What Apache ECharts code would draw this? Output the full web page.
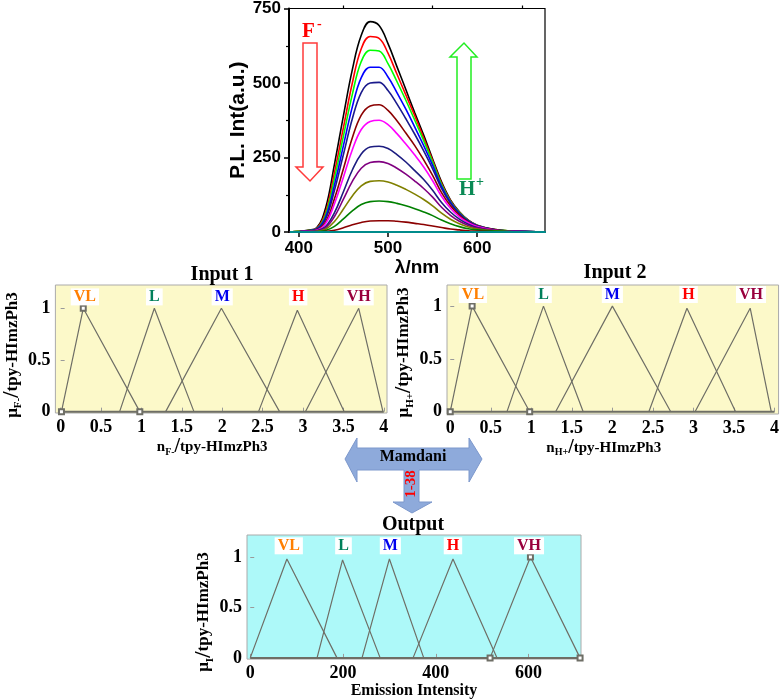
<!DOCTYPE html>
<html><head><meta charset="utf-8">
<script src="https://cdn.jsdelivr.net/npm/echarts@6/dist/echarts.min.js"></script>
<style>html,body{margin:0;padding:0;background:#fff}#c{width:782px;height:700px}</style>
</head><body><div id="c"></div>
<script>
// ---------- Top: PL spectra ----------
const wavelength = [390,400,410,420,430,440,450,460,470,480,490,500,510,520,530,540,550,560,570,580,590,600,620,640,677];
const pl01 = [0,2,6,14,80,228,390,545,660,706,693,632,555,478,400,325,245,168,108,68,40,23,8,3,0];
const pl02 = [0,2,5,12,66,200,350,500,615,656,650,600,530,460,390,315,240,163,105,66,39,22,8,3,0];
const pl03 = [0,2,5,11,58,180,322,462,572,610,607,565,505,442,375,306,234,159,103,65,38,21,8,3,0];
const pl04 = [0,1,4,10,50,158,290,420,518,553,553,520,468,412,352,290,224,153,100,63,37,21,7,3,0];
const pl05 = [0,1,4,9,43,140,260,380,468,500,502,475,430,380,328,272,212,146,96,61,36,20,7,3,0];
const pl06 = [0,1,3,7,33,112,212,316,392,423,427,408,373,332,290,242,190,132,88,56,33,19,7,2,0];
const pl07 = [0,1,3,6,28,95,184,276,344,371,375,360,330,295,258,218,172,120,80,51,31,18,6,2,0];
const pl08 = [0,1,2,4,18,65,135,208,262,285,288,280,260,235,206,176,140,99,67,43,26,15,5,2,0];
const pl09 = [0,1,2,3,14,52,110,170,214,233,236,230,214,194,171,146,117,83,56,36,22,13,5,2,0];
const pl10 = [0,0,1,2,9,35,77,121,155,170,172,168,157,143,127,109,88,63,43,28,17,10,4,1,0];
const pl11 = [0,0,1,1,5,19,44,71,92,102,104,102,96,88,78,67,55,40,28,18,11,7,3,1,0];
const pl12 = [0,0,0,0,2,6,14,24,32,37,38,38,36,33,29,25,20,15,10,7,4,3,1,0,0];
const pl13 = [0,0,0,0,0,0,0,0,0,0,0,0,0,0,0,0,0,0,0,0,0,0,0,0,0];
const plCurves = [pl01,pl02,pl03,pl04,pl05,pl06,pl07,pl08,pl09,pl10,pl11,pl12,pl13];
const plColors = ['#000000','#ff0000','#00ff00','#0000ff','#1a1a8c','#8b0000','#ff00ff','#1c1c80','#800080','#808000','#008000','#8b0000','#008b8b'];
const plTicksX = [400,500,600];
const plMinorX = [450,550,650];

// ---------- Fuzzy membership functions ----------
const terms = ['VL','L','M','H','VH'];
const termColors = ['#ff7f00','#00805a','#0000ee','#ff0000','#99003d'];
const in1Mf = [[0.01,0.28,0.98],[0.73,1.16,1.65],[1.30,1.99,2.71],[2.45,2.93,3.51],[3.03,3.69,3.99]];
const in1Peak = [1,1,1,0.98,1];
const in1LabelX = [0.30,1.16,2.0,2.94,3.69];
const in2Mf = [[0.00,0.27,0.98],[0.70,1.15,1.64],[1.30,2.00,2.72],[2.45,2.92,3.52],[3.02,3.70,3.96]];
const in2Peak = [1,1,1,0.98,0.98];
const in2LabelX = [0.28,1.15,2.0,2.94,3.71];
const outMf = [[0,79,187],[144,199,280],[241,300,374],[351,437,532],[517,604,711]];
const outPeak = [0.98,0.97,0.98,0.98,1];
const outLabelX = [83,201,302,437,601];
const labelY = 1.11;
const inTicks = [0,0.5,1,1.5,2,2.5,3,3.5,4];
const memTicks = [0,0.5,1];
const outTicks = [0,200,400,600];

const SERIF = 'Liberation Serif';
const SANS = 'Liberation Sans';

function fuzzyX(gi, min, max, ticks, nameRich, padRight){
  return {gridIndex: gi, type:'value', min:min, max:max,
    axisLine:{show:false}, splitLine:{show:false},
    axisTick:{show:true, inside:true, length:4, customValues:ticks, lineStyle:{color:'#9a9a9a'}},
    axisLabel:{customValues:ticks, margin:5, fontFamily:SERIF, fontWeight:'bold', fontSize:18, color:'#000'},
    name:nameRich.text, nameLocation:'middle', nameGap:nameRich.gap,
    nameTextStyle:{padding:[0,padRight||0,0,0], rich:nameRich.rich}};
}
function fuzzyY(gi, min, max, nameRich){
  return {gridIndex: gi, type:'value', min:min, max:max,
    axisLine:{show:false}, splitLine:{show:false},
    axisTick:{show:true, inside:true, length:4, customValues:memTicks, lineStyle:{color:'#9a9a9a'}},
    axisLabel:{customValues:memTicks, margin:5, fontFamily:SERIF, fontWeight:'bold', fontSize:18, color:'#000'},
    name:nameRich.text, nameLocation:'middle', nameGap:nameRich.gap, nameRotate:90,
    nameTextStyle:{padding:nameRich.pad||[0,0,0,0], rich:nameRich.rich}};
}
const nameRichX = {
  a:{fontFamily:SERIF, fontWeight:'bold', fontSize:15, color:'#000'},
  s:{fontFamily:SERIF, fontWeight:'bold', fontSize:10, color:'#000', verticalAlign:'bottom', padding:[7,0,0,0]},
  sl:{fontFamily:SERIF, fontWeight:'bold', fontSize:20, color:'#000'}
};
const nameRichY = {
  a:{fontFamily:SERIF, fontWeight:'bold', fontSize:17, color:'#000'},
  s:{fontFamily:SERIF, fontWeight:'bold', fontSize:11, color:'#000', verticalAlign:'bottom', padding:[7,0,0,0]},
  sl:{fontFamily:SERIF, fontWeight:'bold', fontSize:23, color:'#000'}
};

const series = [];
plCurves.forEach((arr, i) => {
  series.push({type:'line', xAxisIndex:0, yAxisIndex:0, smooth:0.4, symbol:'none',
    lineStyle:{color:plColors[i], width: i===12 ? 2.2 : 1.6},
    data: wavelength.map((w,k)=>[w, arr[k]]), z: 3 + (i===12?1:0)});
});

function addFuzzy(xi, yi, mfs, peaks, labelsX, xmax, markIdx){
  series.push({type:'line', xAxisIndex:xi, yAxisIndex:yi, symbol:'none',
    lineStyle:{color:'#6e6e66', width:2}, data:[[0,0],[xmax,0]]});
  mfs.forEach((m, i) => {
    const marked = i === markIdx;
    series.push({type:'line', xAxisIndex:xi, yAxisIndex:yi,
      symbol: marked ? 'emptyRect' : 'none', symbolSize:5, showSymbol: marked,
      itemStyle:{color:'#6e6e66', borderColor:'#6e6e66'},
      lineStyle:{color:'#6e6e66', width:1.2},
      data:[[m[0],0],[m[1],peaks[i]],[m[2],0]]});
  });
  series.push({type:'scatter', xAxisIndex:xi, yAxisIndex:yi, symbolSize:1, itemStyle:{color:'transparent'},
    label:{show:true, position:'inside'},
    data: labelsX.map((x,i)=>({value:[x,labelY],
      label:{show:true, position:'inside', formatter:terms[i], color:termColors[i], textBorderWidth:0, opacity:1,
        fontFamily:SERIF, fontWeight:'bold', fontSize:16, backgroundColor:'#ffffff', padding:[1,3,0,3]}})), z:5});
}
addFuzzy(2, 1, in1Mf, in1Peak, in1LabelX, 4, 0);
addFuzzy(3, 2, in2Mf, in2Peak, in2LabelX, 4, 0);
addFuzzy(4, 3, outMf, outPeak, outLabelX, 711, 4);

const option = {
  animation:false,
  backgroundColor:'#ffffff',
  grid:[
    {left:289, top:7, width:256, height:225, show:true, borderColor:'#000', borderWidth:1.2, backgroundColor:'#fff'},
    {left:52, top:285, width:335, height:128, show:true, borderColor:'#aaaaaa', borderWidth:1, backgroundColor:'#fcf9c9'},
    {left:447, top:285, width:333, height:129, show:true, borderColor:'#aaaaaa', borderWidth:1, backgroundColor:'#fcf9c9'},
    {left:247, top:535, width:334, height:128, show:true, borderColor:'#aaaaaa', borderWidth:1, backgroundColor:'#adf9f9'}
  ],
  xAxis:[
    {gridIndex:0, type:'value', min:389, max:676, splitLine:{show:false},
     axisLine:{lineStyle:{color:'#000', width:2}},
     axisTick:{customValues:plTicksX, length:5, lineStyle:{color:'#000', width:1.5}},
     axisLabel:{customValues:plTicksX, margin:8, fontFamily:SANS, fontWeight:'bold', fontSize:17, color:'#000'},
     name:'λ/nm', nameLocation:'middle', nameGap:21,
     nameTextStyle:{fontFamily:SANS, fontWeight:'bold', fontSize:19, color:'#000'}},
    {gridIndex:0, type:'value', min:389, max:676, splitLine:{show:false}, axisLine:{show:false},
     axisTick:{customValues:plMinorX, length:3, lineStyle:{color:'#000', width:1.2}},
     axisLabel:{show:false}},
    fuzzyX(1, -0.065, 4.04, inTicks, {text:'{a|n}{s|F-}{sl|/}{a|tpy-HImzPh3}', gap:24, rich:nameRichX}, 18),
    fuzzyX(2, -0.04, 4.05, inTicks, {text:'{a|n}{s|H+}{sl|/}{a|tpy-HImzPh3}', gap:22, rich:nameRichX}, 18),
    fuzzyX(3, -7, 713, outTicks, {text:'{e|Emission Intensity}', gap:20, rich:{e:{fontFamily:SERIF, fontWeight:'bold', fontSize:16, color:'#000'}}}, 0)
  ],
  yAxis:[
    {gridIndex:0, type:'value', min:0, max:750, interval:250, splitLine:{show:false},
     axisLine:{show:true, lineStyle:{color:'#000', width:2}},
     axisTick:{show:true, length:5, lineStyle:{color:'#000', width:1.5}},
     minorTick:{show:true, splitNumber:2, length:3, lineStyle:{color:'#000', width:1.2}},
     axisLabel:{margin:8, fontFamily:SANS, fontWeight:'bold', fontSize:17, color:'#000'},
     name:'P.L. Int(a.u.)', nameLocation:'middle', nameGap:38, nameRotate:90,
     nameTextStyle:{fontFamily:SANS, fontWeight:'bold', fontSize:21, color:'#000'}},
    fuzzyY(1, -0.013, 1.225, {text:'{a|μ}{s|F-}{sl|/}{a|tpy-HImzPh3}', gap:17, rich:nameRichY, pad:[0,12,0,0]}),
    fuzzyY(2, -0.022, 1.2, {text:'{a|μ}{s|H+}{sl|/}{a|tpy-HImzPh3}', gap:15, rich:nameRichY, pad:[0,6,0,0]}),
    fuzzyY(3, -0.012, 1.217, {text:'{a|μ}{s|I}{sl|/}{a|tpy-HImzPh3}', gap:12, rich:nameRichY, pad:[0,30,0,0]})
  ],
  graphic:[
    {type:'polygon', z:10, shape:{points:[[303,43],[317,43],[317,167],[323,167],[310,181],[296,167],[303,167]]},
     style:{fill:'#ffffff', stroke:'#ff3b3b', lineWidth:1.5}},
    {type:'text', z:10, x:302, y:32, style:{text:'F', font:'bold 21px "Liberation Serif"', fill:'#ff0000', align:'left', verticalAlign:'middle'}},
    {type:'text', z:10, x:317, y:24, style:{text:'-', font:'bold 14px "Liberation Serif"', fill:'#ff0000', align:'left', verticalAlign:'middle'}},
    {type:'polygon', z:10, shape:{points:[[457,179],[471,179],[471,57],[477,57],[464,43],[450,57],[457,57]]},
     style:{fill:'#ffffff', stroke:'#22ee22', lineWidth:1.5}},
    {type:'text', z:10, x:459, y:190, style:{text:'H', font:'bold 21px "Liberation Serif"', fill:'#0a8a55', align:'left', verticalAlign:'middle'}},
    {type:'text', z:10, x:476, y:182, style:{text:'+', font:'bold 14px "Liberation Serif"', fill:'#0a8a55', align:'left', verticalAlign:'middle'}},
    {type:'polygon', z:10, shape:{points:[[345,459],[357,438],[357,448],[469,448],[469,438],[482,459],[469,482],[469,470],
      [419,470],[419,502],[432,502],[412,513],[393,502],[404,502],[404,470],[357,470],[357,482]]},
     style:{fill:'#8eaadb', stroke:'#7d98cc', lineWidth:1}},
    {type:'text', z:11, x:413, y:457, style:{text:'Mamdani', font:'bold 16px "Liberation Serif"', fill:'#000', align:'center', verticalAlign:'middle'}},
    {type:'text', z:11, x:411, y:484, rotation:Math.PI/2, style:{text:'1-38', font:'bold 15px "Liberation Serif"', fill:'#ff0000', align:'center', verticalAlign:'middle'}},
    {type:'text', z:10, x:222, y:275, style:{text:'Input 1', font:'bold 20px "Liberation Serif"', fill:'#000', align:'center', verticalAlign:'middle'}},
    {type:'text', z:10, x:615, y:273, style:{text:'Input 2', font:'bold 20px "Liberation Serif"', fill:'#000', align:'center', verticalAlign:'middle'}},
    {type:'text', z:10, x:413, y:525, style:{text:'Output', font:'bold 20px "Liberation Serif"', fill:'#000', align:'center', verticalAlign:'middle'}}
  ],
  series: series
};
const chart = echarts.init(document.getElementById('c'), null, {renderer:'canvas'});
chart.setOption(option);
</script>
</body></html>
